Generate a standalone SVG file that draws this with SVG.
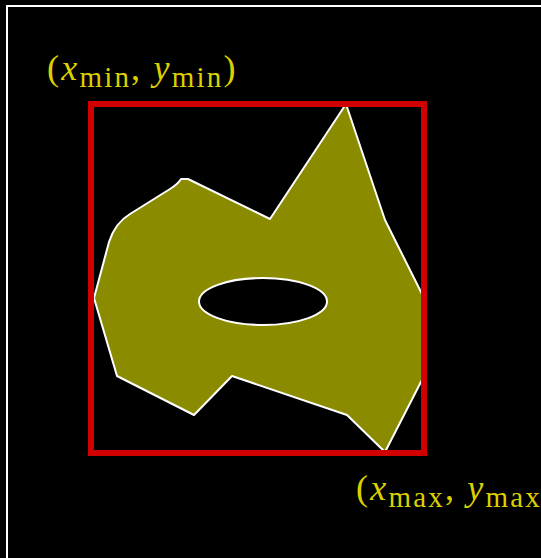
<svg xmlns="http://www.w3.org/2000/svg" width="541" height="558" viewBox="0 0 541 558">
<style>
.lbl{font-family:"Liberation Serif","DejaVu Serif",serif;font-size:36px;fill:#DDD000;letter-spacing:2.2px}
.it{font-style:italic}
.sub{font-size:29px}
</style>
<rect width="541" height="558" fill="#000"/>
<rect x="7" y="6" width="560" height="580" fill="none" stroke="#fff" stroke-width="2"/>
<g id="shape">
<path d="M94,298 L109,242 Q115,223 130,214 L170,189 Q178,184 181,179 L188,179 L270,219 L346,104 L385,220 L424,298 L424,376 L385,452 L347,415 L232,376 L194,415 L117,376 Z" fill="#8B8B00" stroke="#fff" stroke-width="2" stroke-linejoin="round"/>
<ellipse cx="263" cy="301.5" rx="64" ry="23.5" fill="#000" stroke="#fff" stroke-width="2"/>
</g>
<g id="bbox">
<rect x="91" y="104" width="333" height="349" fill="none" stroke="#D00000" stroke-width="6"/>
</g>
<g id="label-min">
<text class="lbl" x="47" y="80">(<tspan class="it">x</tspan><tspan class="sub" dy="7">min</tspan><tspan dy="-7">, </tspan><tspan class="it">y</tspan><tspan class="sub" dy="7">min</tspan><tspan dy="-7">)</tspan></text>
</g>
<g id="label-max">
<text class="lbl" x="356" y="500">(<tspan class="it">x</tspan><tspan class="sub" dy="7">max</tspan><tspan dy="-7">, </tspan><tspan class="it">y</tspan><tspan class="sub" dy="7">max</tspan><tspan dy="-7">)</tspan></text>
</g>
</svg>
